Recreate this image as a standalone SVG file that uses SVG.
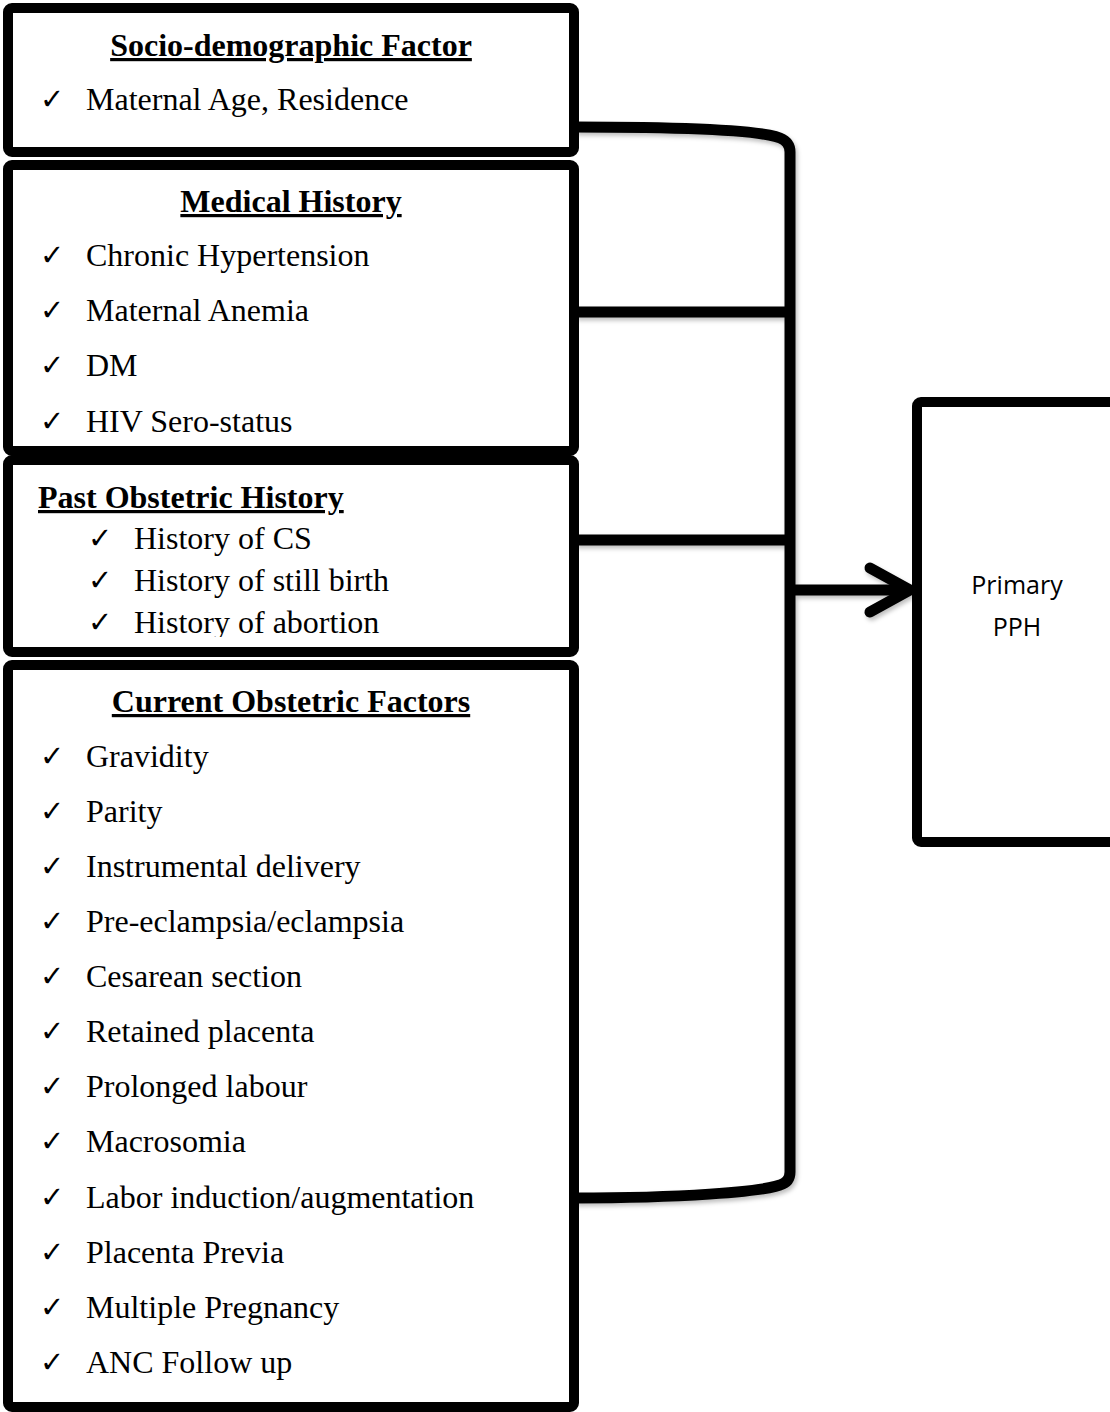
<svg xmlns="http://www.w3.org/2000/svg" width="1110" height="1412" viewBox="0 0 1110 1412">
<style>
.box{fill:#fff;stroke:#000;stroke-width:10}
.t{font-family:"Liberation Serif","Times New Roman",serif;font-size:32px;fill:#000}
.k{font-family:"Liberation Serif","DejaVu Serif",serif;font-size:29px;fill:#000}
.h{font-family:"Liberation Serif","Times New Roman",serif;font-size:32px;font-weight:bold;text-decoration:underline;fill:#000}
.s{font-family:"Open Sans","Liberation Sans",sans-serif;font-size:25px;fill:#000}
.c{fill:none;stroke:#000;stroke-width:11;stroke-linejoin:round}
</style>
<defs>
<filter id="sh" x="-5%" y="-5%" width="110%" height="110%">
<feDropShadow dx="2" dy="3" stdDeviation="2" flood-color="#000" flood-opacity="0.25"/>
</filter>
<clipPath id="clip3"><rect x="13" y="465" width="555" height="172"/></clipPath>
</defs>
<g id="connectors" filter="url(#sh)">
<path class="c" d="M575,127 C680,127 760,130 780,138 Q790,142 790,152 L790,1172 Q790,1182 780,1185 C760,1192 680,1198 575,1198"/>
<path class="c" d="M575,312 L790,312"/>
<path class="c" d="M575,540 L790,540"/>
<path class="c" d="M790,590 L908,590"/>
<path class="c" stroke-linecap="round" d="M870,568 L910,590 L870,612"/>
</g>
<g id="socio">
<rect class="box" x="8" y="8" width="566" height="144" rx="4"/>
<text class="h" x="291" y="56" text-anchor="middle">Socio-demographic Factor</text>
<text class="k" x="40" y="109">✓</text><text class="t" x="86" y="110">Maternal Age, Residence</text>
</g>
<g id="medical">
<rect class="box" x="8" y="165" width="566" height="286" rx="4"/>
<text class="h" x="291" y="212" text-anchor="middle">Medical History</text>
<text class="k" x="40" y="265">✓</text><text class="t" x="86" y="266">Chronic Hypertension</text>
<text class="k" x="40" y="320">✓</text><text class="t" x="86" y="321">Maternal Anemia</text>
<text class="k" x="40" y="375">✓</text><text class="t" x="86" y="376">DM</text>
<text class="k" x="40" y="431">✓</text><text class="t" x="86" y="432">HIV Sero-status</text>
</g>
<g id="past">
<rect class="box" x="8" y="460" width="566" height="192" rx="4"/>
<text class="h" x="38" y="508">Past Obstetric History</text>
<g clip-path="url(#clip3)">
<text class="k" x="88" y="548">✓</text><text class="t" x="134" y="549">History of CS</text>
<text class="k" x="88" y="590">✓</text><text class="t" x="134" y="591">History of still birth</text>
<text class="k" x="88" y="632">✓</text><text class="t" x="134" y="633">History of abortion</text>
</g>
</g>
<g id="current">
<rect class="box" x="8" y="665" width="566" height="742" rx="4"/>
<text class="h" x="291" y="712" text-anchor="middle">Current Obstetric Factors</text>
<text class="k" x="40" y="766">✓</text><text class="t" x="86" y="767">Gravidity</text>
<text class="k" x="40" y="821">✓</text><text class="t" x="86" y="822">Parity</text>
<text class="k" x="40" y="876">✓</text><text class="t" x="86" y="877">Instrumental delivery</text>
<text class="k" x="40" y="931">✓</text><text class="t" x="86" y="932">Pre-eclampsia/eclampsia</text>
<text class="k" x="40" y="986">✓</text><text class="t" x="86" y="987">Cesarean section</text>
<text class="k" x="40" y="1041">✓</text><text class="t" x="86" y="1042">Retained placenta</text>
<text class="k" x="40" y="1096">✓</text><text class="t" x="86" y="1097">Prolonged labour</text>
<text class="k" x="40" y="1151">✓</text><text class="t" x="86" y="1152">Macrosomia</text>
<text class="k" x="40" y="1207">✓</text><text class="t" x="86" y="1208">Labor induction/augmentation</text>
<text class="k" x="40" y="1262">✓</text><text class="t" x="86" y="1263">Placenta Previa</text>
<text class="k" x="40" y="1317">✓</text><text class="t" x="86" y="1318">Multiple Pregnancy</text>
<text class="k" x="40" y="1372">✓</text><text class="t" x="86" y="1373">ANC Follow up</text>
</g>
<g id="pph">
<rect class="box" x="917" y="402" width="210" height="440" rx="4"/>
<text class="s" x="1017" y="594" text-anchor="middle">Primary</text>
<text class="s" x="1017" y="636" text-anchor="middle">PPH</text>
</g>
</svg>
